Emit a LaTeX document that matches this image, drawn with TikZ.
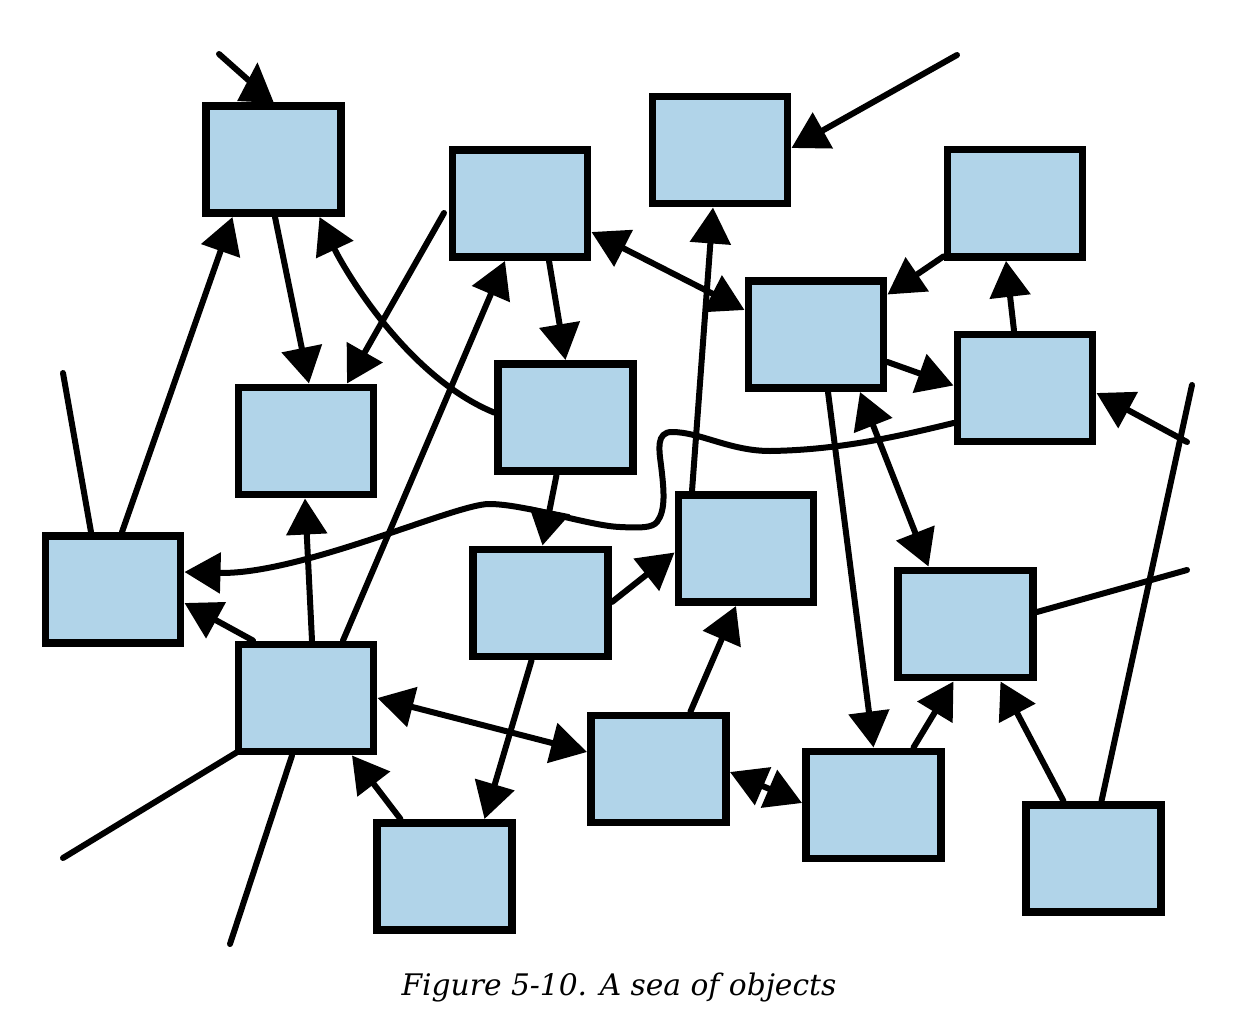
\documentclass[tikz,border=0pt]{standalone}
\usepackage{fontspec}
\newfontfamily\capfont{DejaVu Serif}
\usetikzlibrary{arrows.meta,calc}
\definecolor{boxblue}{RGB}{177,212,233}
\tikzset{
  >={Triangle[length=0.72cm,width=0.8cm]},
  conn/.style={line width=0.12cm, line cap=round},
  arr/.style={conn,->},
  dbl/.style={conn,<->},
  bigarr/.style={conn,-{Triangle[length=0.8cm,width=0.7cm]}},
  box/.style={draw, fill=boxblue, line width=0.15cm, minimum width=2.71cm, minimum height=2.15cm, inner sep=0pt}
}
\begin{document}
\begin{tikzpicture}[x=0.02cm,y=-0.02cm]
\useasboundingbox (0,0) rectangle (1252,1028);
% boxes
\node[box] (B1) at (273.5,159.5) {};
\node[box] (B2) at (520,203.5) {};
\node[box] (B3) at (720,150) {};
\node[box] (B4) at (1015,203.4) {};
\node[box] (B5) at (816,334.5) {};
\node[box] (B6) at (1025,388) {};
\node[box] (B7) at (306,441) {};
\node[box] (B8) at (565.5,417.5) {};
\node[box] (B9) at (113,589.5) {};
\node[box] (B10) at (540.5,603) {};
\node[box] (B11) at (746,548.5) {};
\node[box] (B12) at (965.5,624) {};
\node[box] (B13) at (306,698) {};
\node[box] (B14) at (658.5,769) {};
\node[box] (B15) at (873.5,805) {};
\node[box] (B16) at (444.5,876.5) {};
\node[box] (B17) at (1093.5,858.5) {};
% free ends
\coordinate (f1) at (219,54);
\coordinate (f4) at (63,373);
\coordinate (f6) at (444,213);
\coordinate (f10) at (957,55);
\coordinate (f15) at (1187,442);
\coordinate (f16) at (1192,385);
\coordinate (f20) at (63,858);
\coordinate (f21) at (230,944);
\coordinate (f33) at (1187,570);
% connectors
\draw[bigarr] ($(B1.north)+(-18,0)$) -- ($(B1.north)+(-16,-40)$);
\draw[conn] (f1) -- ($(B1.north)+(-23,-20)$);
\draw[arr] ($(B1.south)+(1.5,0)$) -- ($(B7.north)+(3,0)$);
\draw[arr] ($(B9.north)+(9,0)$) -- ($(B1.south)+(-41,0)$);
\draw[conn] (f4) -- ($(B9.north)+(-22,0)$);
\draw[arr] ($(B8.west)+(0,-5)$) .. controls (405,376) and (342,265) .. ($(B1.south)+(46,0)$);
\draw[arr] (f6) -- ($(B7.north)+(41,0)$);
\draw[arr] ($(B13.north)+(37,0)$) -- ($(B2.south)+(-15,0)$);
\draw[arr] ($(B2.south)+(29,0)$) -- (B8.north);
\draw[dbl] ($(B2.east)+(0,28.5)$) -- ($(B5.west)+(0,-24.5)$);
\draw[arr] (f10) -- ($(B3.east)+(0,-2)$);
\draw[arr] ($(B11.north)+(-54,0)$) -- ($(B3.south)+(-7,0)$);
\draw[arr] ($(B4.west)+(0,53)$) -- ($(B5.east)+(0,-40)$);
\draw[arr] ($(B6.north)+(-11,0)$) -- ($(B4.south)+(-9,0)$);
\draw[arr] ($(B5.east)+(0,27.5)$) -- ($(B6.west)+(0,-2.5)$);
\draw[arr] (f15) -- ($(B6.east)+(0,5)$);
\draw[conn] ($(B17.north)+(8,0)$) -- (f16);
\draw[arr] ($(B6.west)+(0,35)$)
  .. controls (900,436) and (840,450) .. (770,451)
  .. controls (730,451) and (700,432) .. (672,432)
  .. controls (656,432) and (659,450) .. (661,465)
  .. controls (664,490) and (666,510) .. (657,522)
  .. controls (652,528) and (640,528) .. (620,527)
  .. controls (590,526) and (525,504) .. (489,504)
  .. controls (455,504) and (300,575) .. ($(B9.east)+(0,-17.5)$);
\draw[arr] ($(B13.north)+(6,0)$) -- ($(B7.south)+(-1,0)$);
\draw[arr] ($(B13.north)+(-53,0)$) -- ($(B9.east)+(0,13.5)$);
\draw[conn] ($(B13.south west)+(2,-3)$) -- (f20);
\draw[conn] ($(B13.south)+(-14,0)$) -- (f21);
\draw[arr] ($(B8.south)+(-9,0)$) -- ($(B10.north)+(2,0)$);
\draw[arr] ($(B10.east)+(0,-1)$) -- ($(B11.west)+(0,4)$);
\draw[arr] ($(B10.south)+(-9,0)$) -- ($(B16.north)+(40,0)$);
\draw[dbl] ($(B13.east)+(0,0)$) -- ($(B14.west)+(0,-17)$);
\draw[arr] ($(B16.north)+(-44,0)$) -- ($(B13.south)+(46,0)$);
\draw[arr] ($(B14.north)+(32,0)$) -- ($(B11.south)+(-10,0)$);
\draw[dbl] ($(B14.east)+(0,3)$) -- ($(B15.west)+(0,-2)$);
\draw[arr] ($(B5.south)+(12,0)$) -- (B15.north);
\draw[dbl] ($(B5.south)+(44,0)$) -- ($(B12.north)+(-37,0)$);
\draw[arr] ($(B15.north)+(40,0)$) -- ($(B12.south)+(-12,0)$);
\draw[arr] ($(B17.north)+(-30,0)$) -- ($(B12.south)+(35,0)$);
\draw[conn] ($(B12.east)+(0,-12)$) -- (f33);
% caption
\node[anchor=base, inner sep=0pt, font=\capfont\itshape\fontsize{16.9pt}{19pt}\selectfont] (cap) at (619,995) {Figure 5-10. A sea of objects};
\end{tikzpicture}
\end{document}
